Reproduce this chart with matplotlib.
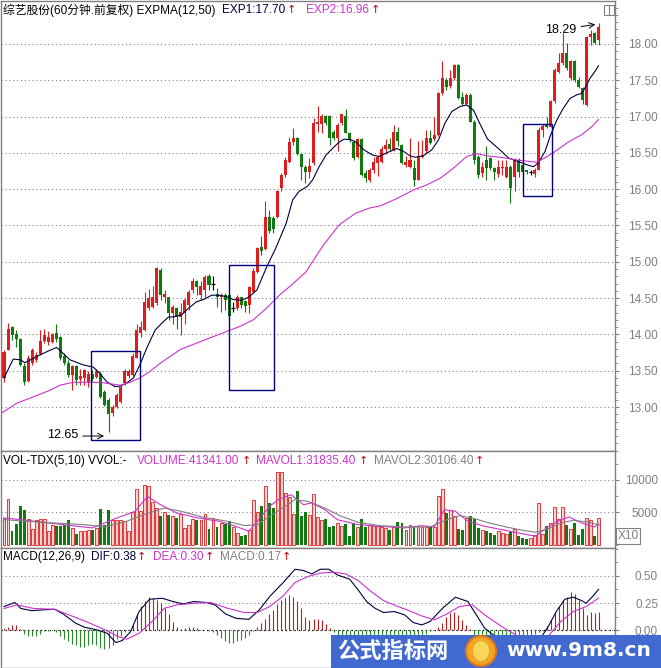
import numpy as np
import matplotlib
matplotlib.use('Agg')
import matplotlib.pyplot as plt
from matplotlib.patches import Rectangle, Ellipse
from matplotlib.ticker import MultipleLocator, FormatStrFormatter

plt.rcParams['font.family'] = ['Liberation Sans', 'Noto Sans CJK SC', 'DejaVu Sans']

W, H = 661, 668

# ---- 60 minute candles ----
opens = [13.40, 13.79, 14.10, 14.01, 13.93, 13.56, 13.36, 13.60, 13.65, 13.73,
         13.91, 13.90, 13.90, 14.02, 13.96, 13.70, 13.60, 13.44, 13.56, 13.38,
         13.40, 13.34, 13.46, 13.42, 13.46, 13.21, 13.10, 12.92, 13.00, 13.07,
         13.33, 13.43, 13.44, 13.68, 14.02, 14.06, 14.36, 14.38, 14.43, 14.89,
         14.52, 14.51, 14.29, 14.36, 14.24, 14.29, 14.41, 14.61, 14.73, 14.54,
         14.61, 14.80, 14.69, 14.56, 14.52, 14.54, 14.54, 14.36, 14.36, 14.51,
         14.46, 14.41, 14.59, 14.86, 15.21, 15.17, 15.62, 15.60, 15.62, 16.01,
         16.20, 16.38, 16.65, 16.70, 16.49, 16.31, 16.24, 16.36, 16.90, 16.90,
         17.01, 17.01, 16.79, 16.70, 16.91, 17.01, 16.78, 16.65, 16.45, 16.69,
         16.22, 16.12, 16.27, 16.36, 16.38, 16.56, 16.62, 16.54, 16.79, 16.61,
         16.33, 16.31, 16.29, 16.13, 16.45, 16.52, 16.70, 16.69, 16.75, 17.32,
         17.50, 17.42, 17.53, 17.71, 17.27, 17.18, 17.30, 16.93, 16.45, 16.22,
         16.40, 16.43, 16.29, 16.21, 16.29, 16.17, 16.31, 16.17, 16.40, 16.33,
         16.26, 16.24, 16.21, 16.27, 16.81, 16.90, 16.86, 17.21, 17.62, 17.74,
         17.87, 17.53, 17.76, 17.51, 17.39, 17.16, 18.10, 18.15, 18.05]
highs = [13.79, 14.16, 14.12, 14.06, 13.95, 13.60, 13.72, 13.81, 13.76, 14.06,
         14.07, 14.04, 14.02, 14.14, 13.98, 13.74, 13.65, 13.58, 13.58, 13.53,
         13.53, 13.49, 13.51, 13.53, 13.49, 13.23, 13.12, 13.03, 13.19, 13.30,
         13.53, 13.53, 13.74, 14.14, 14.18, 14.59, 14.62, 14.66, 14.93, 14.92,
         14.61, 14.52, 14.41, 14.38, 14.43, 14.50, 14.61, 14.77, 14.75, 14.73,
         14.82, 14.83, 14.80, 14.64, 14.57, 14.57, 14.57, 14.45, 14.54, 14.52,
         14.47, 14.67, 14.91, 15.21, 15.35, 15.84, 15.71, 15.63, 15.99, 16.22,
         16.45, 16.72, 16.84, 16.72, 16.49, 16.33, 16.43, 16.98, 17.15, 17.04,
         17.02, 17.02, 16.82, 16.91, 17.04, 17.11, 16.79, 16.68, 16.70, 16.70,
         16.27, 16.29, 16.45, 16.47, 16.59, 16.69, 16.70, 16.88, 16.86, 16.62,
         16.46, 16.70, 16.40, 16.67, 16.68, 16.82, 16.82, 17.00, 17.34, 17.76,
         17.53, 17.64, 17.73, 17.73, 17.34, 17.32, 17.32, 16.95, 16.47, 16.38,
         16.59, 16.44, 16.31, 16.40, 16.40, 16.40, 16.33, 16.43, 16.43, 16.38,
         16.27, 16.27, 16.29, 16.86, 16.90, 16.99, 17.23, 17.67, 17.87, 18.15,
         18.01, 17.78, 17.78, 17.55, 17.41, 18.11, 18.19, 18.17, 18.29]
lows = [13.35, 13.78, 13.92, 13.83, 13.56, 13.30, 13.35, 13.58, 13.62, 13.72,
        13.88, 13.85, 13.88, 13.90, 13.65, 13.58, 13.42, 13.23, 13.30, 13.30,
        13.30, 13.28, 13.36, 13.40, 13.12, 13.01, 12.65, 12.88, 12.98, 13.05,
        13.30, 13.40, 13.43, 13.67, 13.97, 14.04, 14.34, 14.36, 14.41, 14.47,
        14.43, 14.20, 14.15, 14.08, 13.99, 14.15, 14.34, 14.57, 14.54, 14.47,
        14.52, 14.61, 14.61, 14.38, 14.31, 14.34, 14.24, 14.31, 14.34, 14.36,
        14.31, 14.29, 14.57, 14.84, 15.09, 15.16, 15.39, 15.40, 15.60, 15.98,
        16.17, 16.36, 16.61, 16.47, 16.13, 16.09, 16.15, 16.33, 16.79, 16.77,
        16.88, 16.61, 16.68, 16.52, 16.88, 16.77, 16.65, 16.40, 16.43, 16.18,
        16.10, 16.10, 16.22, 16.18, 16.36, 16.49, 16.53, 16.52, 16.59, 16.35,
        16.30, 16.29, 16.04, 16.12, 16.43, 16.50, 16.62, 16.67, 16.73, 17.30,
        17.37, 17.40, 17.50, 17.24, 17.16, 17.16, 16.92, 16.35, 16.15, 16.17,
        16.13, 16.27, 16.13, 16.17, 16.20, 16.15, 15.81, 15.97, 16.17, 16.20,
        16.21, 16.20, 16.17, 16.26, 16.72, 16.84, 16.85, 17.19, 17.60, 17.71,
        17.64, 17.50, 17.48, 17.39, 17.18, 17.15, 17.99, 18.00, 17.99]
closes = [13.76, 14.07, 13.99, 13.93, 13.58, 13.34, 13.67, 13.79, 13.72, 13.91,
          13.99, 13.97, 14.01, 13.93, 13.67, 13.60, 13.44, 13.56, 13.37, 13.43,
          13.51, 13.46, 13.38, 13.50, 13.14, 13.03, 12.91, 13.00, 13.17, 13.28,
          13.50, 13.50, 13.70, 14.06, 14.10, 14.45, 14.50, 14.52, 14.91, 14.54,
          14.56, 14.29, 14.38, 14.24, 14.31, 14.47, 14.59, 14.73, 14.65, 14.67,
          14.79, 14.68, 14.69, 14.51, 14.54, 14.47, 14.26, 14.36, 14.52, 14.41,
          14.39, 14.65, 14.88, 15.19, 15.15, 15.62, 15.43, 15.45, 15.97, 16.20,
          16.40, 16.65, 16.70, 16.49, 16.30, 16.24, 16.32, 16.91, 16.92, 17.01,
          16.91, 16.71, 16.70, 16.88, 17.04, 16.78, 16.68, 16.43, 16.69, 16.20,
          16.15, 16.27, 16.38, 16.45, 16.55, 16.61, 16.55, 16.79, 16.67, 16.36,
          16.38, 16.40, 16.13, 16.46, 16.47, 16.70, 16.64, 16.75, 17.32, 17.53,
          17.41, 17.53, 17.71, 17.25, 17.18, 17.30, 16.93, 16.40, 16.20, 16.31,
          16.29, 16.29, 16.24, 16.31, 16.31, 16.31, 16.01, 16.40, 16.24, 16.24,
          16.23, 16.24, 16.27, 16.82, 16.87, 16.85, 17.21, 17.64, 17.74, 17.88,
          17.67, 17.76, 17.51, 17.41, 17.23, 18.10, 18.14, 18.01, 18.24]

# EXPMA(12,50) lines, sampled along the chart (candle number, price)
exp1_x = [1, 3.3, 5.1, 6.2, 8.3, 10, 12.4, 14.1, 15.3, 17.4,
          20.7, 23.2, 24.9, 26.5, 28.6, 30, 31.5, 33.2, 34.8, 36.5,
          38.6, 40.2, 41.9, 43.1, 45.2, 46.9, 48.9, 50.6, 52.7, 54.3,
          56.4, 58, 60.1, 61.8, 63.9, 66.2, 68.7, 71.2, 72.8, 74.4,
          76.5, 77.8, 79.4, 81.1, 82.7, 84.4, 85.6, 87.3, 88.5, 90.6,
          92.7, 94.3, 96.2, 98.7, 100.4, 102, 103.3, 105.3, 107.4, 109.1,
          110.7, 112.4, 114.5, 116.1, 117.8, 119.4, 121.3, 124.2, 126.5, 129,
          131.4, 132.7, 133.9, 135.6, 136.8, 138.5, 140.1, 141.8, 143.5, 144.7,
          145.5, 146.8, 148, 148.9]
exp1_y = [13.40, 13.66, 13.65, 13.61, 13.67, 13.72, 13.78, 13.82, 13.76, 13.65,
          13.58, 13.55, 13.46, 13.35, 13.28, 13.29, 13.33, 13.40, 13.58, 13.81,
          14.06, 14.15, 14.24, 14.24, 14.27, 14.36, 14.45, 14.48, 14.54, 14.54,
          14.52, 14.48, 14.47, 14.51, 14.61, 14.91, 15.20, 15.53, 15.85, 15.97,
          16.04, 16.13, 16.31, 16.47, 16.56, 16.65, 16.69, 16.68, 16.65, 16.54,
          16.47, 16.45, 16.50, 16.56, 16.52, 16.46, 16.44, 16.46, 16.54, 16.68,
          16.91, 17.07, 17.14, 17.16, 17.09, 16.90, 16.69, 16.55, 16.43, 16.38,
          16.33, 16.31, 16.36, 16.52, 16.72, 16.95, 17.11, 17.25, 17.30, 17.32,
          17.39, 17.53, 17.62, 17.70]
exp2_x = [0.5, 4.1, 8.3, 12.4, 14.9, 18.2, 21.6, 24.9, 27.4, 29.9,
          32.3, 34.8, 37.3, 39.8, 44.8, 48.9, 53.1, 56.4, 59.7, 63,
          66.3, 69.7, 72.1, 76.1, 80.2, 84.4, 88.5, 91.9, 94.6, 98.7,
          102.9, 106.2, 109.5, 112.8, 116.1, 118.6, 121.1, 124.4, 129, 133.5,
          135.2, 138.1, 141.4, 144.7, 147.2, 148.9]
exp2_y = [12.92, 13.05, 13.14, 13.23, 13.30, 13.34, 13.34, 13.34, 13.32, 13.30,
          13.34, 13.40, 13.49, 13.60, 13.79, 13.88, 13.97, 14.04, 14.11, 14.20,
          14.36, 14.55, 14.66, 14.86, 15.21, 15.51, 15.67, 15.74, 15.77, 15.87,
          15.99, 16.06, 16.15, 16.29, 16.45, 16.49, 16.46, 16.44, 16.40, 16.37,
          16.42, 16.52, 16.65, 16.75, 16.86, 16.96]

# volume (x10 hands)
volumes = [4100, 7060, 2060, 3250, 6030, 5300, 3970, 2420, 3870, 3970,
           3970, 2060, 3090, 2940, 2940, 3090, 3870, 2580, 1700, 2060,
           2060, 2320, 2220, 2580, 5520, 3090, 5410, 3870, 3760, 3870,
           3610, 2060, 5000, 8610, 5150, 9280, 9120, 6550, 5670, 4380,
           5000, 4640, 4480, 4120, 4790, 2580, 3090, 3970, 3870, 3870,
           4790, 2420, 4120, 2730, 3350, 3250, 3610, 2730, 1800, 1290,
           1550, 2320, 6960, 5000, 6030, 9020, 6440, 5670, 11290, 11290,
           7990, 7370, 4790, 8250, 4480, 5000, 4640, 7890, 4280, 3760,
           3970, 2730, 2840, 3350, 2940, 3250, 1390, 3350, 2730, 3970,
           2730, 3090, 2940, 2840, 2730, 2580, 2220, 2730, 3450, 3350,
           2320, 3090, 2730, 2940, 2730, 2730, 2940, 2730, 7580, 8610,
           4900, 5410, 4480, 2420, 2220, 4120, 4380, 3970, 2580, 2320,
           2060, 1800, 1550, 2060, 1800, 1700, 1910, 2420, 1290, 1030,
           880, 1030, 1550, 6440, 1700, 2940, 3350, 5830, 3970, 5830,
           3090, 2420, 3350, 1550, 2420, 4120, 3760, 1390, 4134]
mavol1_x = [1, 5.2, 15.7, 23, 28, 33.6, 36.7, 39.9, 44, 49.3,
            54.5, 58.7, 61.9, 64, 67.1, 69.2, 72.4, 75.5, 77.6, 80.8,
            83.9, 89.1, 94.4, 100.7, 104.9, 108, 110.6, 113.3, 116.4, 120.6,
            124.8, 129, 133.2, 136.3, 139.5, 141.6, 144.7, 147.9, 149]
mavol1_y = [4120, 3860, 3090, 2580, 3860, 5150, 7470, 6180, 4890, 4120,
            3610, 2830, 2060, 3610, 5920, 6950, 7730, 6180, 6440, 5410,
            3860, 3090, 2830, 2580, 2940, 2730, 5410, 5150, 3610, 2830,
            2320, 1800, 1290, 2730, 3860, 4270, 3350, 2730, 3184]
mavol2_x = [1, 10.5, 21, 26.2, 31.5, 35.7, 40.9, 45.1, 50.3, 56.6,
            60.8, 64, 67.1, 70.3, 73.4, 76.6, 80.8, 84.9, 89.1, 94.4,
            100.7, 107, 111.2, 114.3, 117.5, 121.7, 125.9, 130, 133.2, 136.3,
            139.5, 142.6, 146.8, 149]
mavol2_y = [3860, 3450, 3090, 2730, 3610, 4630, 5660, 5150, 4270, 3610,
            2940, 3090, 4380, 5660, 6950, 6700, 5660, 4380, 3450, 2940,
            2730, 2730, 3860, 4480, 4120, 3350, 2730, 2220, 1900, 2420,
            3350, 3760, 3450, 3011]

# MACD(12,26,9)
dif_x = [1, 3.7, 5.2, 7.9, 10.5, 13.6, 15.7, 18.9, 21, 24.1,
         26.7, 28.8, 30.4, 32.5, 34.6, 37.2, 40.4, 43, 45.6, 48.2,
         51.4, 53.5, 56.1, 58.7, 61.9, 64.5, 67.1, 70.3, 73.4, 75.5,
         77.6, 79.7, 81.8, 83.9, 87, 89.1, 91.2, 93.3, 95.4, 98.1,
         100.7, 102.8, 104.9, 107, 110.1, 113.3, 116.4, 118.5, 120.6, 123.8,
         126.9, 131.1, 134.2, 136.3, 138.4, 140.5, 142.6, 144.7, 145.8, 147.4,
         148.9]
dif_y = [0.218, 0.255, 0.20, 0.18, 0.187, 0.193, 0.15, 0.064, 0.028, 0.003,
         -0.028, -0.113, -0.095, -0.012, 0.172, 0.285, 0.294, 0.264, 0.242, 0.264,
         0.255, 0.233, 0.15, 0.11, 0.10, 0.187, 0.31, 0.432, 0.561, 0.549,
         0.518, 0.561, 0.561, 0.509, 0.469, 0.371, 0.264, 0.202, 0.163, 0.172,
         0.141, 0.071, 0.049, 0.08, 0.202, 0.304, 0.264, 0.141, 0.018, -0.074,
         -0.12, -0.135, -0.089, 0.028, 0.172, 0.285, 0.304, 0.273, 0.248, 0.31,
         0.375]
dea_x = [1, 4.2, 8.4, 13.6, 17.8, 22, 26.2, 29.4, 31.5, 34.6,
         37.8, 40.9, 44, 48.2, 52.4, 56.6, 60.8, 64, 67.1, 70.3,
         73.4, 76.6, 79.7, 82.9, 86, 89.1, 92.3, 95.4, 98.6, 101.7,
         104.9, 108, 111.2, 114.3, 117.5, 120.6, 124.8, 129, 133.2, 136.3,
         139.5, 142.6, 145.8, 148.9]
dea_y = [0.20, 0.233, 0.20, 0.193, 0.132, 0.071, 0.003, -0.058, -0.083, -0.028,
         0.08, 0.202, 0.233, 0.248, 0.255, 0.202, 0.163, 0.163, 0.218, 0.31,
         0.439, 0.494, 0.525, 0.534, 0.518, 0.457, 0.356, 0.273, 0.224, 0.181,
         0.132, 0.095, 0.15, 0.218, 0.233, 0.141, 0.034, -0.058, -0.089, -0.058,
         0.08, 0.172, 0.218, 0.295]
macd_hist = [0.02, 0.03, 0.05, 0.05, 0.01,
             -0.03, -0.05, -0.05, -0.05, -0.03, -0.01,
             -0.01, 0.0, -0.02,
             -0.05, -0.08, -0.10, -0.13, -0.14, -0.15, -0.15, -0.14, -0.13, -0.14,
             -0.16, -0.17, -0.16, -0.14, -0.08,
             -0.05, -0.02, 0.0,
             0.06, 0.15, 0.22, 0.27, 0.31, 0.30, 0.28, 0.25, 0.20, 0.15, 0.08, 0.03, 0.01,
             0.02, 0.03, 0.03, 0.02, 0.0,
             0.0, -0.01, -0.02,
             -0.04, -0.07, -0.10, -0.12, -0.12, -0.10, -0.09, -0.07, -0.04, -0.01,
             0.03, 0.07, 0.10, 0.15, 0.19, 0.24, 0.28, 0.30, 0.32, 0.31,
             0.27, 0.20, 0.12, 0.09, 0.10, 0.10, 0.09, 0.06, 0.02,
             -0.02, -0.04, -0.06, -0.09, -0.12, -0.15, -0.17, -0.17, -0.16, -0.14,
             -0.12, -0.10, -0.08, -0.07, -0.06, -0.06, -0.05, -0.07, -0.09, -0.10,
             -0.09, -0.07, -0.05, -0.03, -0.01, 0.0,
             0.03, 0.07, 0.12, 0.16, 0.17, 0.14, 0.09, 0.05, 0.01,
             -0.05, -0.10, -0.15, -0.18, -0.19, -0.18, -0.16, -0.14, -0.12,
             -0.10, -0.08, -0.07, -0.06, -0.05, -0.04, -0.03, -0.02, -0.01,
             0.04, 0.10, 0.16, 0.22, 0.28, 0.31, 0.35, 0.33, 0.28, 0.20,
             0.14, 0.17, 0.16, 0.17]

# marked zones: (first candle, last candle, low price, high price)
boxes = [(22.7, 34.9, 12.55, 13.77),
         (56.9, 68.1, 13.23, 14.96),
         (130.2, 137.3, 15.91, 16.90)]

RED = '#dc1e1e'
GREEN = '#107a10'
NAVY = '#000040'
MAGENTA = '#cc33cc'
GRAY = '#808080'
ARROW_RED = '#c00000'
HEAD_FS = 8.5


def fx(px):
    return px / W


def fy(py):
    return 1 - py / H


fig = plt.figure(figsize=(W / 100, H / 100), dpi=100)
fig.patch.set_facecolor('white')

left = 1
right = 615
ax = fig.add_axes([fx(left), fy(451), (right - left) / W, (451 - 1) / H])
ax_vol = fig.add_axes([fx(left), fy(548), (right - left) / W, (548 - 451) / H])
ax_macd = fig.add_axes([fx(left), 0, (right - left) / W, (668 - 548) / H])

xlim = (0.254, 153.0)
grid_ls = (0, (1, 2.5))

for a in (ax, ax_vol, ax_macd):
    a.set_xlim(*xlim)
    a.set_xticks([])
    for s in a.spines.values():
        s.set_color(GRAY)
        s.set_linewidth(1.0)
    a.yaxis.tick_right()
    a.tick_params(axis='y', which='major', length=3, width=0.8, color=GRAY,
                  labelcolor=GRAY, labelsize=8.5, pad=28)
    a.tick_params(axis='y', which='minor', length=2, width=0.6, color=GRAY)

# ---- price panel ----
n = np.arange(1, len(closes) + 1)
o, h, l, c = (np.array(v) for v in (opens, highs, lows, closes))
up = c > o
flat = c == o
cols = np.where(up, RED, np.where(flat, 'black', GREEN))

ax.vlines(n, l, h, colors=cols, lw=0.8, zorder=3)
nb = ~flat
ax.bar(n[nb], np.abs(c - o)[nb], bottom=np.minimum(o, c)[nb], width=0.75,
       color=cols[nb], linewidth=0, zorder=4)
ax.hlines(c[flat], n[flat] - 0.45, n[flat] + 0.45, colors='black', lw=0.9, zorder=4)

ax.plot(exp1_x, exp1_y, color=NAVY, lw=0.8, zorder=5)
ax.plot(exp2_x, exp2_y, color=MAGENTA, lw=0.8, zorder=5)

for x0, x1, y0, y1 in boxes:
    ax.add_patch(Rectangle((x0, y0), x1 - x0, y1 - y0, fill=False,
                           edgecolor='#000080', lw=1.0, zorder=6))

ax.set_ylim(12.394, 18.592)
ax.set_yticks(np.arange(13.0, 18.01, 0.5))
ax.yaxis.set_major_formatter(FormatStrFormatter('%.2f'))
ax.yaxis.set_minor_locator(MultipleLocator(0.1))
ax.grid(True, axis='y', linestyle=grid_ls, color=GRAY, lw=0.8)

ax.annotate('', xy=(26.6, 12.60), xytext=(19.9, 12.60),
            arrowprops=dict(arrowstyle='->', color='black', lw=0.7), zorder=7)
ax.text(19.5, 12.61, '12.65', ha='right', va='center', fontsize=9, color='black')
ax.annotate('', xy=(148.8, 18.275), xytext=(143.9, 18.234),
            arrowprops=dict(arrowstyle='->', color='black', lw=0.7), zorder=7)
ax.text(143.5, 18.19, '18.29', ha='right', va='center', fontsize=9, color='black')

# ---- volume panel ----
vol = np.array(volumes)
vol_up = c >= o
ax_vol.bar(n[vol_up], vol[vol_up], width=0.72, facecolor='#f7d2d2',
           edgecolor=RED, linewidth=0.6, zorder=3)
ax_vol.bar(n[~vol_up], vol[~vol_up], width=0.72, color=GREEN, linewidth=0, zorder=3)
ax_vol.plot(mavol1_x, mavol1_y, color=MAGENTA, lw=0.8, zorder=4)
ax_vol.plot(mavol2_x, mavol2_y, color=GRAY, lw=0.8, zorder=4)
ax_vol.set_ylim(-526, 14489)
ax_vol.set_yticks([5000, 10000])
ax_vol.set_yticklabels(['5000', '10000'])
ax_vol.yaxis.set_minor_locator(MultipleLocator(2500))
ax_vol.grid(True, axis='y', linestyle=grid_ls, color=GRAY, lw=0.8)

# ---- MACD panel ----
hist = np.array(macd_hist)
pos = hist >= 0
ax_macd.vlines(n[pos], 0, hist[pos], colors='#b82020', lw=0.8, zorder=3)
ax_macd.vlines(n[~pos], 0, hist[~pos], colors='#2a8a2a', lw=0.8, zorder=3)
ax_macd.plot(dif_x, dif_y, color=NAVY, lw=0.8, zorder=4)
ax_macd.plot(dea_x, dea_y, color=MAGENTA, lw=0.8, zorder=4)
ax_macd.set_ylim(-0.347, 0.756)
ax_macd.set_yticks([0.0, 0.25, 0.5])
ax_macd.yaxis.set_major_formatter(FormatStrFormatter('%.2f'))
ax_macd.yaxis.set_minor_locator(MultipleLocator(0.125))
ax_macd.grid(True, axis='y', linestyle=grid_ls, color=GRAY, lw=0.8)
ax_macd.axhline(0, linestyle=grid_ls, color='black', lw=0.9, zorder=2)

for a in (ax, ax_vol, ax_macd):
    for t in a.get_yticklabels():
        t.set_horizontalalignment('right')


# ---- header texts ----
def label(x, y, s, color='black'):
    fig.text(fx(x), fy(y), s, color=color, fontsize=HEAD_FS, ha='left', va='center')


def arrow(x, y):
    fig.text(fx(x), fy(y), '↑', color=ARROW_RED, fontsize=8, ha='center',
             va='center', family=['DejaVu Sans'])


label(3, 10, '综艺股份(60分钟.前复权) EXPMA(12,50)')
label(222, 10, 'EXP1:17.70', NAVY)
arrow(291, 10)
label(306, 10, 'EXP2:16.96', MAGENTA)
arrow(375, 10)

label(3, 461, 'VOL-TDX(5,10) VVOL:-')
label(137, 461, 'VOLUME:41341.00', MAGENTA)
arrow(246, 461)
label(256, 461, 'MAVOL1:31835.40', MAGENTA)
arrow(363, 461)
label(374, 461, 'MAVOL2:30106.40', GRAY)
arrow(479, 461)

label(3, 557, 'MACD(12,26,9)')
label(91, 557, 'DIF:0.38', NAVY)
arrow(141, 557)
label(153, 557, 'DEA:0.30', MAGENTA)
arrow(209, 557)
label(220, 557, 'MACD:0.17', GRAY)
arrow(286, 557)

fig.text(fx(628), fy(536), 'X10', color=GRAY, fontsize=8.5, ha='center', va='center',
         bbox=dict(boxstyle='square,pad=0.15', facecolor='white', edgecolor=GRAY, lw=0.8))

# small window icon top right
fig.add_artist(Rectangle((fx(604), fy(15)), 10 / W, 10 / H, fill=False,
                         edgecolor=GRAY, lw=0.8, transform=fig.transFigure))
fig.add_artist(plt.Line2D([fx(609), fx(609)], [fy(15), fy(5)], color=GRAY, lw=0.8,
                          transform=fig.transFigure))

# watermark strip
fig.add_artist(Rectangle((fx(331), 0), (W - 331) / W, (668 - 635) / H,
                         facecolor='#4169cf', edgecolor='none', transform=fig.transFigure,
                         zorder=10))
fig.text(fx(337), fy(651), '公式指标网', color='white', fontsize=16, fontweight='bold',
         ha='left', va='center', family=['Noto Sans CJK SC'], zorder=11)
fig.add_artist(Ellipse((fx(481), fy(651)), 30 / W, 30 / H, facecolor='#f0a428',
                       edgecolor='#e07818', lw=1.5, transform=fig.transFigure, zorder=11))
fig.add_artist(Ellipse((fx(481), fy(651)), 16 / W, 20 / H, facecolor='#f7d65a',
                       edgecolor='none', transform=fig.transFigure, zorder=12))
fig.text(fx(506), fy(651), 'www.9m8.cn', color='white', fontsize=14.5, fontweight='bold',
         ha='left', va='center', family=['DejaVu Sans'], zorder=11)

fig.savefig('out.png', dpi=100, facecolor='white')
